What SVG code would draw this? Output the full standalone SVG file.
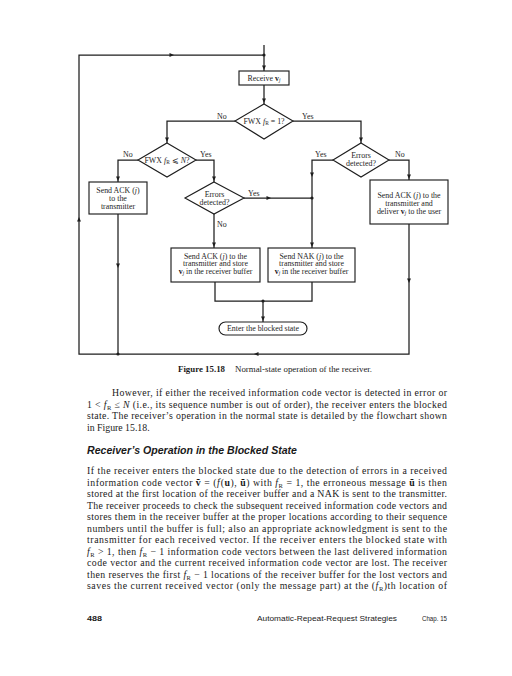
<svg xmlns="http://www.w3.org/2000/svg" xmlns:xlink="http://www.w3.org/1999/xlink" width="512" height="676" viewBox="0 0 512 676">
<style>
.ln{fill:none;stroke:#1e1e1e;stroke-width:1.25}
.bx{fill:#fff;stroke:#1e1e1e;stroke-width:1.15}
.t{font-family:"Liberation Serif","Times New Roman",serif;fill:#1e1e1e;font-size:7.9px;text-anchor:middle}
.lb{font-family:"Liberation Serif","Times New Roman",serif;fill:#1e1e1e;font-size:7.9px}
.body{font-family:"Liberation Serif","Times New Roman",serif;fill:#1a1a1a;font-size:9.8px}
.i{font-style:italic}
.b{font-weight:bold}
.dot{fill:#1e1e1e}
</style>
<defs>
<path id="ad" d="M-2,-4.5 L2,-4.5 L0,0 Z" fill="#1e1e1e"/>
</defs>
<rect width="512" height="676" fill="#fff"/>

<g id="connectors">
<path class="ln" d="M264,45 V71"/>
<path class="ln" d="M264,85 V104"/>
<path class="ln" d="M235,121 H167 V143"/>
<path class="ln" d="M293,121 H361 V143"/>
<path class="ln" d="M138,160 H118 V182"/>
<path class="ln" d="M196,160 H214 V182"/>
<path class="ln" d="M244,198 H312"/>
<path class="ln" d="M214,214 V248"/>
<path class="ln" d="M333,160 H312 V248"/>
<path class="ln" d="M389,160 H409 V180"/>
<path class="ln" d="M118,214 V354"/>
<path class="ln" d="M409,224 V354 H79 V55 H264"/>
<path class="ln" d="M215,282 V301 H312 V282"/>
<path class="ln" d="M263,301 V322"/>
<circle class="dot" cx="264" cy="55" r="1.6"/>
<circle class="dot" cx="312" cy="198" r="1.6"/>
<circle class="dot" cx="263" cy="301" r="1.6"/>
<circle class="dot" cx="118" cy="354" r="1.6"/>
<use xlink:href="#ad" transform="translate(174,55) rotate(-90)"/>
<use xlink:href="#ad" transform="translate(264,70)"/>
<use xlink:href="#ad" transform="translate(264,103)"/>
<use xlink:href="#ad" transform="translate(167,142)"/>
<use xlink:href="#ad" transform="translate(361,142)"/>
<use xlink:href="#ad" transform="translate(118,181)"/>
<use xlink:href="#ad" transform="translate(214,181)"/>
<use xlink:href="#ad" transform="translate(409,179)"/>
<use xlink:href="#ad" transform="translate(271,198) rotate(-90)"/>
<use xlink:href="#ad" transform="translate(214,247)"/>
<use xlink:href="#ad" transform="translate(312,177)"/>
<use xlink:href="#ad" transform="translate(312,247)"/>
<use xlink:href="#ad" transform="translate(263,321)"/>
<use xlink:href="#ad" transform="translate(118,268)"/>
<use xlink:href="#ad" transform="translate(409,283)"/>
<use xlink:href="#ad" transform="translate(254,354) rotate(90)"/>
<use xlink:href="#ad" transform="translate(79,217) rotate(180)"/>
<text class="lb" x="217" y="118.5">No</text>
<text class="lb" x="302" y="118.5">Yes</text>
<text class="lb" x="123" y="156.5">No</text>
<text class="lb" x="200" y="156.5">Yes</text>
<text class="lb" x="315" y="156.5">Yes</text>
<text class="lb" x="395" y="156.5">No</text>
<text class="lb" x="248" y="195.5">Yes</text>
<text class="lb" x="217" y="226.5">No</text>
</g>

<g id="receive">
<rect class="bx" x="239" y="71" width="50" height="14"/>
<text class="t" x="264" y="80.8" font-size="7.4">Receive <tspan class="b">v</tspan><tspan class="i" dy="1.6" font-size="5.4">j</tspan></text>
</g>

<g id="dec-fr1">
<polygon class="bx" points="264,104 293,121 264,139 235,121"/>
<text class="t" x="264" y="123.5">FWX <tspan class="i">f</tspan><tspan dy="1.6" font-size="5.4">R</tspan><tspan dy="-1.6"> = 1?</tspan></text>
</g>

<g id="dec-frn">
<polygon class="bx" points="167,143 196,160 167,177 138,160"/>
<text class="t" x="167" y="162.5">FWX <tspan class="i">f</tspan><tspan dy="1.6" font-size="5.4">R</tspan><tspan dy="-1.6"> ⩽ </tspan><tspan class="i">N</tspan>?</text>
</g>

<g id="ack-left">
<rect class="bx" x="89" y="182" width="58" height="32"/>
<text class="t" x="118" y="192.5">Send ACK (<tspan class="i">j</tspan>)</text>
<text class="t" x="118" y="200.5">to the</text>
<text class="t" x="118" y="208.5">transmitter</text>
</g>

<g id="dec-err-mid">
<polygon class="bx" points="214,182 244,198 214,214 185,198"/>
<text class="t" x="214.5" y="197">Errors</text>
<text class="t" x="214.5" y="204.5">detected?</text>
</g>

<g id="dec-err-right">
<polygon class="bx" points="361,143 389,160 361,177 333,160"/>
<text class="t" x="361" y="158">Errors</text>
<text class="t" x="361" y="165.5">detected?</text>
</g>

<g id="ack-deliver">
<rect class="bx" x="370" y="180" width="78" height="44"/>
<text class="t" x="409" y="197.5">Send ACK (<tspan class="i">j</tspan>) to the</text>
<text class="t" x="409" y="205.5">transmitter and</text>
<text class="t" x="409" y="213.5">deliver <tspan class="b">v</tspan><tspan class="i" dy="1.6" font-size="5.4">j</tspan><tspan dy="-1.6"> to the user</tspan></text>
</g>

<g id="ack-store">
<rect class="bx" x="171" y="248" width="89" height="34"/>
<text class="t" x="215.5" y="258.5">Send ACK (<tspan class="i">j</tspan>) to the</text>
<text class="t" x="215.5" y="266">transmitter and store</text>
<text class="t" x="215.5" y="273.5"><tspan class="b">v</tspan><tspan class="i" dy="1.6" font-size="5.4">j</tspan><tspan dy="-1.6"> in the receiver buffer</tspan></text>
</g>

<g id="nak-store">
<rect class="bx" x="268" y="248" width="87" height="34"/>
<text class="t" x="311.5" y="258.5">Send NAK (<tspan class="i">j</tspan>) to the</text>
<text class="t" x="311.5" y="266">transmitter and store</text>
<text class="t" x="311.5" y="273.5"><tspan class="b">v</tspan><tspan class="i" dy="1.6" font-size="5.4">j</tspan><tspan dy="-1.6"> in the receiver buffer</tspan></text>
</g>

<g id="blocked">
<rect class="bx" x="219" y="322" width="88" height="13" rx="6.5" ry="6.5"/>
<text class="t" x="263" y="331.3">Enter the blocked state</text>
</g>

<g font-family="Liberation Serif, serif" font-size="8.8" fill="#1a1a1a">
<text x="178" y="371.5" font-weight="bold" textLength="47" lengthAdjust="spacingAndGlyphs">Figure 15.18</text>
<text x="235" y="371.5" textLength="137" lengthAdjust="spacingAndGlyphs">Normal-state operation of the receiver.</text>
</g>

<g class="body">
<text x="112" y="396" textLength="335" lengthAdjust="spacing">However, if either the received information code vector is detected in error or</text>
<text x="87" y="407.5" textLength="360" lengthAdjust="spacing">1 &lt; <tspan class="i">f</tspan><tspan dy="2" font-size="6.5">R</tspan><tspan dy="-2"> ≤ </tspan><tspan class="i">N</tspan> (i.e., its sequence number is out of order), the receiver enters the blocked</text>
<text x="87" y="419" textLength="360" lengthAdjust="spacing">state. The receiver’s operation in the normal state is detailed by the flowchart shown</text>
<text x="87" y="430.5">in Figure 15.18.</text>
</g>

<text x="87" y="454" font-family="Liberation Sans, Arial, sans-serif" font-size="10" font-weight="bold" font-style="italic" fill="#1a1a1a" textLength="210" lengthAdjust="spacingAndGlyphs">Receiver’s Operation in the Blocked State</text>

<g class="body">
<text x="87" y="474" textLength="360" lengthAdjust="spacing">If the receiver enters the blocked state due to the detection of errors in a received</text>
<text x="87" y="485.5" textLength="360" lengthAdjust="spacing">information code vector <tspan class="b">ṽ</tspan> = (<tspan class="i">f</tspan><tspan dx="-2.5" dy="-2.6" font-size="6">˜</tspan><tspan dx="0.6" dy="2.6">(</tspan><tspan class="b">u</tspan>), <tspan class="b">ũ</tspan>) with <tspan class="i">f</tspan><tspan dy="2" font-size="6.5">R</tspan><tspan dy="-2"> = 1, the erroneous message </tspan><tspan class="b">ũ</tspan> is then</text>
<text x="87" y="497" textLength="360" lengthAdjust="spacing">stored at the first location of the receiver buffer and a NAK is sent to the transmitter.</text>
<text x="87" y="508.5" textLength="360" lengthAdjust="spacing">The receiver proceeds to check the subsequent received information code vectors and</text>
<text x="87" y="520" textLength="360" lengthAdjust="spacing">stores them in the receiver buffer at the proper locations according to their sequence</text>
<text x="87" y="531.5" textLength="360" lengthAdjust="spacing">numbers until the buffer is full; also an appropriate acknowledgment is sent to the</text>
<text x="87" y="543" textLength="360" lengthAdjust="spacing">transmitter for each received vector. If the receiver enters the blocked state with</text>
<text x="87" y="554.5" textLength="360" lengthAdjust="spacing"><tspan class="i">f</tspan><tspan dy="2" font-size="6.5">R</tspan><tspan dy="-2"> &gt; 1, then </tspan><tspan class="i">f</tspan><tspan dy="2" font-size="6.5">R</tspan><tspan dy="-2"> − 1 information code vectors between the last delivered information</tspan></text>
<text x="87" y="566" textLength="360" lengthAdjust="spacing">code vector and the current received information code vector are lost. The receiver</text>
<text x="87" y="577.5" textLength="360" lengthAdjust="spacing">then reserves the first <tspan class="i">f</tspan><tspan dy="2" font-size="6.5">R</tspan><tspan dy="-2"> − 1 locations of the receiver buffer for the lost vectors and</tspan></text>
<text x="87" y="589" textLength="360" lengthAdjust="spacing">saves the current received vector (only the message part) at the (<tspan class="i">f</tspan><tspan dy="2" font-size="6.5">R</tspan><tspan dy="-2">)th location of</tspan></text>
</g>

<g font-family="Liberation Sans, Arial, sans-serif" font-size="8" fill="#1a1a1a">
<text x="87" y="621" font-weight="bold" textLength="15" lengthAdjust="spacingAndGlyphs">488</text>
<text x="257" y="621" textLength="140" lengthAdjust="spacingAndGlyphs">Automatic-Repeat-Request Strategies</text>
<text x="422" y="621" textLength="25" lengthAdjust="spacingAndGlyphs">Chap. 15</text>
</g>
</svg>
